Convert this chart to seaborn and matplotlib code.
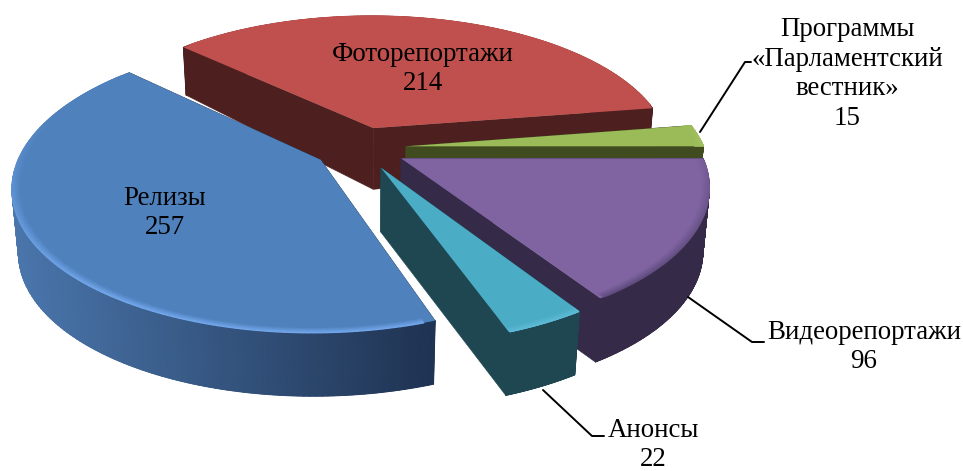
import numpy as np
import matplotlib
matplotlib.use("Agg")
import matplotlib.pyplot as plt
from matplotlib.path import Path
from matplotlib.colors import to_rgb, LinearSegmentedColormap
from matplotlib.collections import LineCollection
import seaborn as sns

# Data (counter-clockwise order, starting at the back-left edge of "Релизы")
names = ["Релизы", "Анонсы", "Видеорепортажи", "Программы\n«Парламентский\nвестник»", "Фоторепортажи"]
values = [257, 22, 96, 15, 214]

top_colors = ["#4f81bd", "#4bacc6", "#8064a2", "#9bbb59", "#c0504d"]
rim_colors = ["#74a9ee", "#5fbcd8", "#5d4a7c", "#b2d070", "#c0504d"]
cut_colors = ["#26405f", "#1f4752", "#352a48", "#414b20", "#4d1f1e"]
wall_left = ["#4a76ac", "#1f4752", "#352a48", "#414b20", "#4d1f1e"]
wall_right = ["#1f3352", "#1f4752", "#352a48", "#414b20", "#4d1f1e"]
draw_order = [4, 3, 2, 1, 0]

# View geometry, in pixels
CX, CY, RX, RY, P, Q, DEPTH = 360, 148, 298, 138, 0.175, 0.018, 64
EXPLODE = 0.155
START = 136.5


def project(u, v, z=0.0):
    u, v = np.asarray(u, float), np.asarray(v, float)
    s = 1 / (1 + P * v + Q * z)
    d = DEPTH * np.where(v > 0, 1 - 0.33 * v, 1 - 0.05 * v)
    return CX + RX * u * s, CY - RY * v * s + d * z


def mix(a, b, t):
    a, b = np.array(to_rgb(a)), np.array(to_rgb(b))
    return tuple(a + (b - a) * t)


sns.set_theme(style="white")
plt.rcParams["font.family"] = ["Liberation Serif", "DejaVu Serif"]
fig = plt.figure(figsize=(9.63, 4.71), dpi=100)
ax = fig.add_axes([0, 0, 1, 1])

wedges, _ = ax.pie(values, explode=[EXPLODE] * len(values), startangle=START,
                   colors=sns.color_palette(top_colors), counterclock=True,
                   wedgeprops=dict(linewidth=0))
ax.set_aspect("auto")
ax.set_xlim(0, 963)
ax.set_ylim(471, 0)
ax.axis("off")

base_z = 2
for i in draw_order:
    w = wedges[i]
    cu, cv = w.center
    th = np.radians(np.linspace(w.theta1, w.theta2, 160))
    au, av = cu + w.r * np.cos(th), cv + w.r * np.sin(th)

    # radial cut faces
    for k in (0, -1):
        fu, fv = np.array([cu, au[k]]), np.array([cv, av[k]])
        x0, y0 = project(fu, fv, 0.0)
        x1, y1 = project(fu, fv, 1.0)
        ax.fill(np.r_[x0, x1[::-1]], np.r_[y0, y1[::-1]], color=cut_colors[i],
                lw=0.4, zorder=base_z)
    # outer wall: solid underlay, then a smooth gradient
    x0, y0 = project(au, av, 0.0)
    x1, y1 = project(au, av, 1.0)
    ax.fill(np.r_[x0, x1[::-1]], np.r_[y0, y1[::-1]],
            color=mix(wall_left[i], wall_right[i], 0.6), lw=0.3, zorder=base_z)
    cmap = LinearSegmentedColormap.from_list(f"wall{i}", [wall_left[i], wall_right[i]])
    ax.pcolormesh(np.vstack([x0, x1]), np.vstack([y0, y1]),
                  np.vstack([x0, x0]), shading="gouraud", cmap=cmap, zorder=base_z)
    # top face: the pie wedge itself, projected
    ax_, ay_ = project(cu, cv)
    tx = np.r_[ax_, x0]
    ty = np.r_[ay_, y0]
    w._path = Path(np.column_stack([np.r_[tx, tx[0]], np.r_[ty, ty[0]]]), closed=True)
    w.set_zorder(base_z + 0.5)
    # bevel along the rim, strongest towards the viewer
    weight = np.clip(0.3 - 0.9 * np.sin(th[2:-2]), 0.0, 1.0)
    for f in np.linspace(0, 1, 9):
        r = w.r * (1 - 0.028 * f)
        bx, by = project(cu + r * np.cos(th[2:-2]), cv + r * np.sin(th[2:-2]))
        pts = np.column_stack([bx, by])
        segs = np.stack([pts[:-1], pts[1:]], axis=1)
        cols = [mix(top_colors[i], rim_colors[i], (1 - f) * g) for g in weight[:-1]]
        ax.add_collection(LineCollection(segs, colors=cols, linewidths=1.0,
                                         zorder=base_z + 0.6, capstyle="round"))
    base_z += 1

# Leader lines
leaders = [([700, 745, 751], [132, 62, 62]),
           ([688, 752, 764], [297, 342, 342]),
           ([543, 592, 604], [390, 436, 436])]
for lx, ly in leaders:
    ax.plot(lx, ly, color="black", lw=1.4, zorder=20)

# Labels
label_pos = {0: (165, 213), 1: (653, 445), 2: (864, 347), 3: (847, 74), 4: (423, 69)}
for i, (x, y) in label_pos.items():
    ax.text(x, y, f"{names[i]}\n{values[i]}", ha="center", va="center", fontsize=19.4,
            color="black", linespacing=1.25, zorder=30)

fig.savefig("out.png", dpi=100, facecolor="white")
